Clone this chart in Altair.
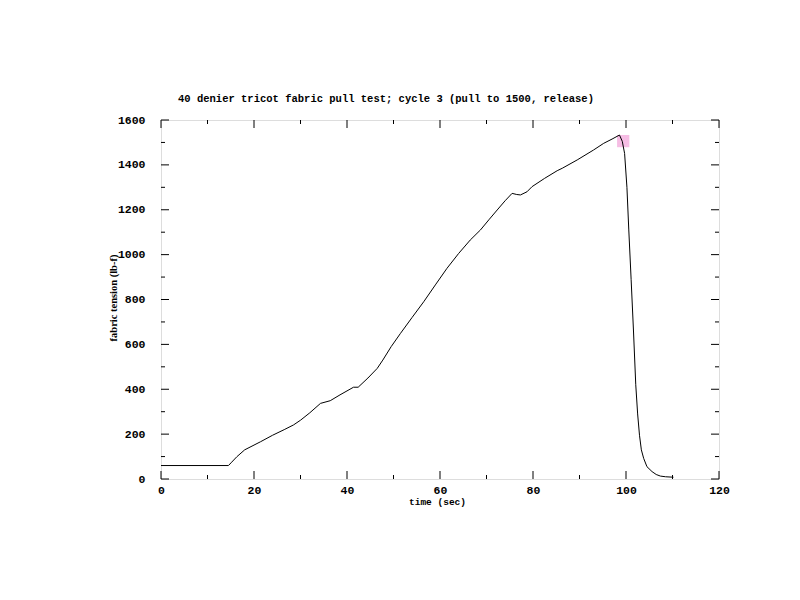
import altair as alt
import pandas as pd

# ---- data ----
time_sec = [0, 14.5, 15.2, 16.3, 18, 21.4, 24, 26.5, 28.5, 30, 32, 34.3, 36.4, 38.5,
            41.4, 42.4, 44.5, 46.5, 47.7, 49.5, 51.5, 54, 56.5, 59, 61.5, 64, 66.5,
            68.7, 70.5, 72.3, 74, 75.5, 76.5, 77.3, 78.7, 79.8, 82.5, 85.2, 86.3,
            89.5, 93, 95.2, 97, 98.6, 99.2, 99.7, 100.2, 100.6, 101.1, 101.6, 102.1,
            102.5, 102.9, 103.3, 103.8, 104.5, 105.6, 106.5, 107.4, 108.5, 110.2]
tension = [60, 60, 75, 99, 130, 166, 195, 220, 241, 262, 295, 337, 349, 375,
           409, 409, 450, 493, 530, 590, 649, 720, 790, 865, 939, 1005, 1065,
           1110, 1155, 1199, 1240, 1273, 1268, 1266, 1280, 1303, 1340, 1374, 1385,
           1422, 1466, 1496, 1515, 1533, 1505, 1451, 1300, 1110, 890, 664, 420,
           290, 195, 130, 92, 55, 33, 20, 13, 10, 8]

marker_t = [99.4]
marker_v = [1506]

x_major = [0, 20, 40, 60, 80, 100, 120]
x_minor = [10, 30, 50, 70, 90, 110]
y_major = [0, 200, 400, 600, 800, 1000, 1200, 1400, 1600]
y_minor = [100, 300, 500, 700, 900, 1100, 1300, 1500]

TITLE = "40 denier tricot fabric pull test; cycle 3 (pull to 1500, release)"

W, H = 558, 359
MONO = "Liberation Mono"

line_df = pd.DataFrame({"t": time_sec, "v": tension})
mark_df = pd.DataFrame({"t": marker_t, "v": marker_v})

xs = alt.Scale(domain=[0, 120], nice=False, zero=False)
ys = alt.Scale(domain=[0, 1600], nice=False, zero=False)

xaxis = alt.Axis(values=x_major, format="d", ticks=False, domain=False, grid=False,
                 labelFlush=False, labelOverlap=False,
                 labelFont=MONO, labelFontSize=11.5, labelFontWeight="bold",
                 labelColor="black", labelPadding=5,
                 title="time (sec)", titleFont=MONO, titleFontSize=9.5,
                 titleFontWeight="bold", titleColor="black",
                 titleX=W / 2 - 3, titleY=22, titleBaseline="middle")
yaxis = alt.Axis(values=y_major, format="d", ticks=False, domain=False, grid=False,
                 labelFlush=False, labelOverlap=False,
                 labelFont=MONO, labelFontSize=11.5, labelFontWeight="bold",
                 labelColor="black", labelPadding=16,
                 title="fabric tension (lb-f)", titleFont="Liberation Serif",
                 titleFontSize=10.5, titleFontWeight="bold", titleColor="black",
                 titleX=-48, titleY=H / 2 - 2, titleAngle=-90,
                 titleBaseline="middle", titleAlign="center")

marker = alt.Chart(mark_df).mark_square(size=150, color="#f6bde4", opacity=1).encode(
    x=alt.X("t:Q", scale=xs, axis=xaxis),
    y=alt.Y("v:Q", scale=ys, axis=yaxis),
)

line = alt.Chart(line_df).mark_line(color="black", strokeWidth=1).encode(
    x=alt.X("t:Q", scale=xs),
    y=alt.Y("v:Q", scale=ys),
)


def xticks(vals, length):
    df = pd.DataFrame({"t": vals})
    base = alt.Chart(df).mark_rule(color="black", strokeWidth=1)
    bottom = base.encode(x=alt.X("t:Q", scale=xs), y=alt.value(H), y2=alt.value(H - length))
    top = base.encode(x=alt.X("t:Q", scale=xs), y=alt.value(0), y2=alt.value(length))
    return [bottom, top]


def yticks(vals, length):
    df = pd.DataFrame({"v": vals})
    base = alt.Chart(df).mark_rule(color="black", strokeWidth=1)
    left = base.encode(y=alt.Y("v:Q", scale=ys), x=alt.value(0), x2=alt.value(length))
    right = base.encode(y=alt.Y("v:Q", scale=ys), x=alt.value(W), x2=alt.value(W - length))
    return [left, right]


layers = [marker, line] + xticks(x_major, 8) + xticks(x_minor, 4) + yticks(y_major, 8) + yticks(y_minor, 4)

chart = alt.layer(*layers).properties(
    width=W, height=H,
    title=alt.TitleParams(TITLE, font=MONO, fontSize=10.5, fontWeight="bold",
                          color="black", anchor="middle", dx=-54, offset=10),
    autosize=alt.AutoSizeParams(type="none"),
    padding={"left": 153, "top": 112, "right": 60, "bottom": 80},
).configure_view(stroke="black", strokeWidth=1).configure(background="white")

chart.save("out.html", embed_options={"renderer": "svg", "actions": False})
